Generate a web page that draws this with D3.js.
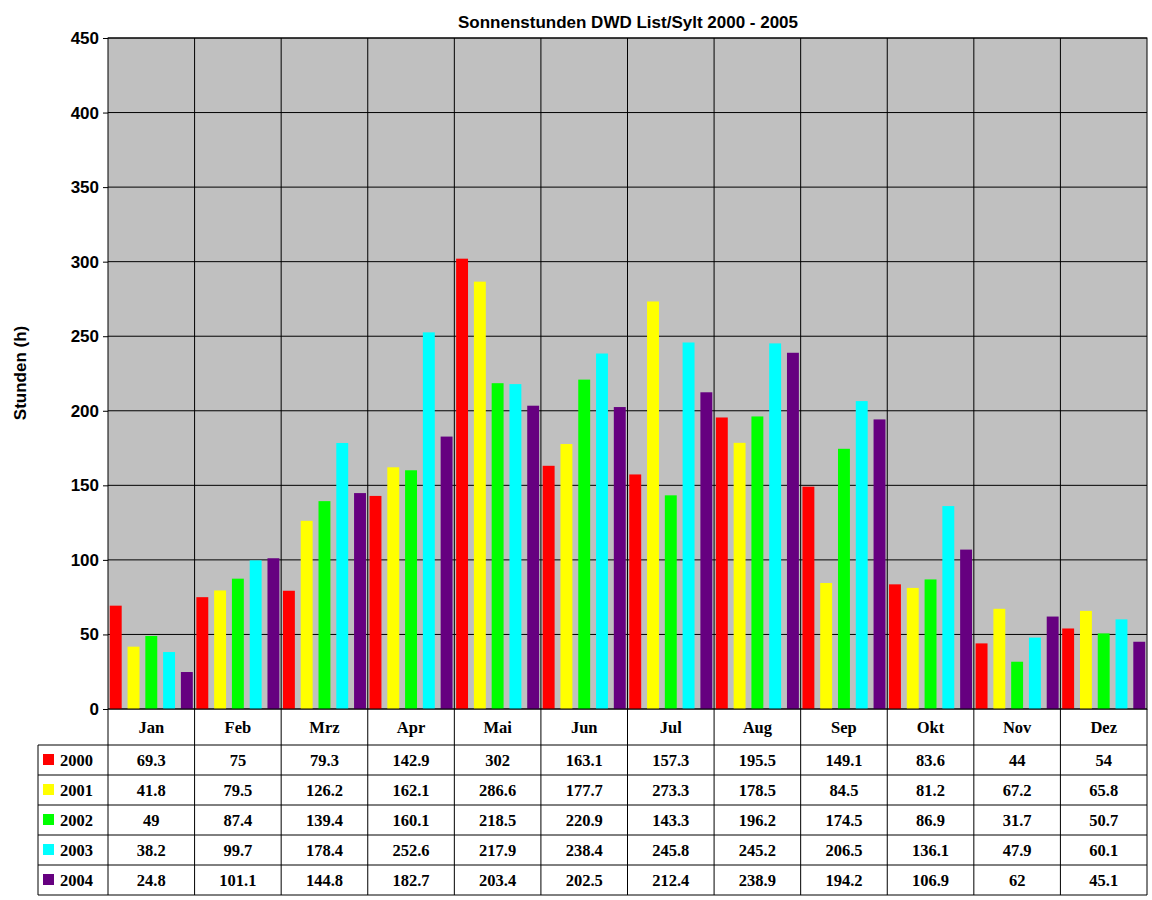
<!DOCTYPE html>
<html><head><meta charset="utf-8">
<script src="https://cdn.jsdelivr.net/npm/d3@7"></script>
<style>body{margin:0;background:#fff}</style></head>
<body><svg id="c" width="1152" height="900"></svg>
<script>
const months=["Jan","Feb","Mrz","Apr","Mai","Jun","Jul","Aug","Sep","Okt","Nov","Dez"];
const years=["2000","2001","2002","2003","2004"];
const colors=["#ff0000","#ffff00","#00ff00","#00ffff","#660080"];
const v2000=[69.3,75,79.3,142.9,302,163.1,157.3,195.5,149.1,83.6,44,54];
const v2001=[41.8,79.5,126.2,162.1,286.6,177.7,273.3,178.5,84.5,81.2,67.2,65.8];
const v2002=[49,87.4,139.4,160.1,218.5,220.9,143.3,196.2,174.5,86.9,31.7,50.7];
const v2003=[38.2,99.7,178.4,252.6,217.9,238.4,245.8,245.2,206.5,136.1,47.9,60.1];
const v2004=[24.8,101.1,144.8,182.7,203.4,202.5,212.4,238.9,194.2,106.9,62,45.1];
const series=[v2000,v2001,v2002,v2003,v2004];
const yTicks=[0,50,100,150,200,250,300,350,400,450];

const svg=d3.select("#c");
const L=108,R=1147,T=38,B=709;
const x=d3.scaleBand().domain(months).range([L,R]);
const xi=d3.scaleBand().domain(years).range([0,x.bandwidth()]).paddingInner(0.33).paddingOuter(0.1);
const y=d3.scaleLinear().domain([0,450]).range([B,T]);

svg.append("rect").attr("x",L).attr("y",T).attr("width",R-L).attr("height",B-T).attr("fill","#c0c0c0");
svg.append("g").selectAll("line").data(yTicks).join("line")
 .attr("x1",L).attr("x2",R).attr("y1",d=>y(d)).attr("y2",d=>y(d)).attr("stroke","#000").attr("stroke-width",1);
svg.append("g").selectAll("line").data(months.slice(1)).join("line")
 .attr("x1",d=>x(d)).attr("x2",d=>x(d)).attr("y1",T).attr("y2",B).attr("stroke","#000");

series.forEach((s,i)=>{
 svg.append("g").selectAll("rect").data(s).join("rect")
  .attr("x",(d,j)=>x(months[j])+xi(years[i])).attr("width",xi.bandwidth())
  .attr("y",d=>y(d)).attr("height",d=>B-y(d)).attr("fill",colors[i]);
});
svg.append("rect").attr("x",L).attr("y",T).attr("width",R-L).attr("height",B-T).attr("fill","none").attr("stroke","#000");

const ya=svg.append("g").attr("transform",`translate(${L},0)`).call(d3.axisLeft(y).tickValues(yTicks).tickSize(5).tickPadding(4));
ya.select(".domain").remove();
ya.selectAll("text").attr("font-family","Liberation Sans, Arial").attr("font-weight","bold").attr("font-size",17).attr("fill","#000");

svg.append("text").attr("x",628).attr("y",28).attr("text-anchor","middle").attr("font-family","Liberation Sans, Arial").attr("font-weight","bold").attr("font-size",17).text("Sonnenstunden DWD List/Sylt 2000 - 2005");
svg.append("text").attr("transform","translate(26,373) rotate(-90)").attr("text-anchor","middle").attr("font-family","Liberation Sans, Arial").attr("font-weight","bold").attr("font-size",17).text("Stunden (h)");

// table
const rowH=30, tL=38, hB=745;
const g=svg.append("g").attr("font-family","Liberation Serif, Times New Roman").attr("font-weight","bold").attr("font-size",16.5);
g.append("line").attr("x1",L).attr("x2",L).attr("y1",B).attr("y2",hB+rowH*5).attr("stroke","#000");
months.forEach(m=>{
 g.append("line").attr("x1",x(m)+x.bandwidth()).attr("x2",x(m)+x.bandwidth()).attr("y1",B).attr("y2",hB+rowH*5).attr("stroke","#000");
 g.append("text").attr("x",x(m)+x.bandwidth()/2).attr("y",733).attr("text-anchor","middle").text(m);
});
g.append("line").attr("x1",tL).attr("x2",tL).attr("y1",hB).attr("y2",hB+rowH*5).attr("stroke","#000");
for(let r=0;r<=5;r++) g.append("line").attr("x1",tL).attr("x2",R).attr("y1",hB+r*rowH).attr("y2",hB+r*rowH).attr("stroke","#000");
series.forEach((s,i)=>{
 const cy=hB+i*rowH+rowH/2;
 g.append("rect").attr("x",43).attr("y",cy-6).attr("width",11).attr("height",11).attr("fill",colors[i]);
 g.append("text").attr("x",60).attr("y",cy+6).text(years[i]);
 s.forEach((d,j)=>g.append("text").attr("x",x(months[j])+x.bandwidth()/2).attr("y",cy+6).attr("text-anchor","middle").text(d));
});
</script></body></html>
